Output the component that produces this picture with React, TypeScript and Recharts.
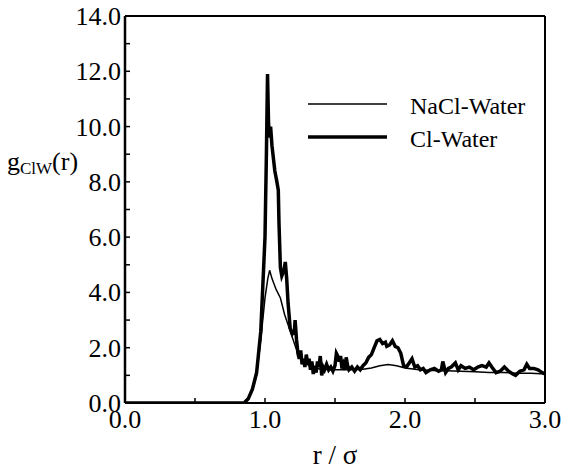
import { LineChart, Line, XAxis, YAxis, Legend, Label } from 'recharts';

const clR = [0, 0.85, 0.88, 0.91, 0.94, 0.97, 1.0, 1.01, 1.018, 1.025, 1.03, 1.04, 1.05, 1.07, 1.085, 1.095, 1.1, 1.11, 1.12, 1.135, 1.145, 1.155, 1.165, 1.18, 1.195, 1.21, 1.215, 1.225, 1.235, 1.245, 1.255, 1.265, 1.275, 1.285, 1.295, 1.305, 1.315, 1.325, 1.335, 1.345, 1.355, 1.365, 1.375, 1.385, 1.395, 1.405, 1.415, 1.425, 1.44, 1.455, 1.47, 1.485, 1.5, 1.51, 1.52, 1.53, 1.54, 1.55, 1.56, 1.57, 1.58, 1.59, 1.6, 1.62, 1.64, 1.66, 1.68, 1.7, 1.72, 1.74, 1.76, 1.78, 1.8, 1.82, 1.84, 1.86, 1.87, 1.89, 1.91, 1.93, 1.95, 1.97, 1.99, 2.01, 2.03, 2.05, 2.07, 2.09, 2.11, 2.13, 2.15, 2.18, 2.21, 2.24, 2.26, 2.27, 2.29, 2.31, 2.33, 2.36, 2.38, 2.4, 2.43, 2.46, 2.49, 2.52, 2.55, 2.58, 2.6, 2.62, 2.65, 2.68, 2.71, 2.74, 2.77, 2.79, 2.82, 2.85, 2.87, 2.89, 2.92, 2.95, 2.98, 3.0];
const clG = [0, 0, 0.15, 0.5, 1.1, 2.6, 6.0, 9.0, 11.9, 10.2, 9.6, 10.0, 9.3, 8.4, 8.0, 7.7, 6.5, 4.9, 4.6, 4.8, 5.1, 4.5, 3.6, 2.7, 2.5, 2.6, 3.0, 2.3, 1.8, 1.6, 1.9, 1.4, 1.6, 1.3, 1.75, 1.4, 1.6, 1.2, 1.5, 1.05, 1.35, 1.1, 1.5, 1.3, 1.7, 1.0, 1.3, 1.2, 1.4, 1.2, 1.3, 1.15, 1.35, 1.8, 1.7, 1.5, 1.7, 1.25, 1.4, 1.2, 1.65, 1.35, 1.2, 1.3, 1.15, 1.3, 1.2, 1.35, 1.45, 1.65, 1.75, 2.0, 2.25, 2.3, 2.15, 2.2, 2.05, 2.1, 2.25, 2.05, 2.0, 1.8, 1.35, 1.3, 1.45, 1.6, 1.3, 1.35, 1.2, 1.25, 1.1, 1.2, 1.25, 1.15, 1.2, 1.5, 1.1, 1.25, 1.3, 1.45, 1.2, 1.35, 1.25, 1.3, 1.2, 1.3, 1.35, 1.3, 1.45, 1.3, 1.1, 1.15, 1.3, 1.15, 1.05, 1.0, 1.15, 1.2, 1.4, 1.25, 1.25, 1.2, 1.1, 1.05];

const naclR = [0, 0.85, 0.88, 0.91, 0.94, 0.97, 1.0, 1.02, 1.033, 1.05, 1.08, 1.11, 1.14, 1.18, 1.22, 1.26, 1.3, 1.35, 1.4, 1.5, 1.6, 1.7, 1.76, 1.82, 1.88, 1.94, 2.0, 2.1, 2.2, 2.3, 2.4, 2.5, 2.6, 2.7, 2.8, 2.9, 3.0];
const naclG = [0, 0, 0.12, 0.45, 1.0, 2.3, 3.8, 4.5, 4.8, 4.5, 4.1, 3.8, 3.2, 2.6, 2.0, 1.6, 1.4, 1.27, 1.22, 1.2, 1.2, 1.22, 1.27, 1.35, 1.39, 1.35, 1.27, 1.2, 1.18, 1.17, 1.15, 1.13, 1.1, 1.1, 1.08, 1.08, 1.05];

const xTicks = [0, 0.5, 1, 1.5, 2, 2.5, 3];
const yTicks = [0, 1, 2, 3, 4, 5, 6, 7, 8, 9, 10, 11, 12, 13, 14];

const clData = clR.map((r, i) => ({ r, g: clG[i] }));
const naclData = naclR.map((r, i) => ({ r, g: naclG[i] }));

const serif = { fontFamily: "'Liberation Serif', 'Times New Roman', Times, serif" };

const XTick = ({ x, y, payload }: any) => {
  const v = payload.value;
  return (
    <g>
      <line x1={x} x2={x} y1={y} y2={y - 5} stroke="#000" strokeWidth={1.5} />
      {Number.isInteger(v) && (
        <text x={x} y={y + 25} textAnchor="middle" style={serif} fontSize={26} fill="#000">
          {v.toFixed(1)}
        </text>
      )}
    </g>
  );
};

const YTick = ({ x, y, payload }: any) => {
  const v = payload.value;
  return (
    <g>
      <line x1={x} x2={x + 5} y1={y} y2={y} stroke="#000" strokeWidth={1.5} />
      {v % 2 === 0 && (
        <text x={x - 4} y={y + 9} textAnchor="end" style={serif} fontSize={26} fill="#000">
          {v.toFixed(1)}
        </text>
      )}
    </g>
  );
};

const LegendBox = () => (
  <svg width={240} height={70}>
    <line x1={8} x2={87} y1={14} y2={14} stroke="#000" strokeWidth={1.5} />
    <line x1={8} x2={87} y1={47} y2={47} stroke="#000" strokeWidth={3.5} />
    <text x={110} y={24} style={serif} fontSize={24} fill="#000">NaCl-Water</text>
    <text x={110} y={57} style={serif} fontSize={24} fill="#000">Cl-Water</text>
  </svg>
);

export default function App() {
  return (
    <div style={{ position: 'absolute', left: 0, top: 0, background: '#fff' }}>
      <LineChart width={564} height={469} margin={{ top: 0, right: 0, bottom: 0, left: 0 }}>
        <XAxis
          type="number"
          dataKey="r"
          domain={[0, 3]}
          ticks={xTicks}
          height={66}
          tickSize={0}
          tickMargin={0}
          tickLine={false}
          tick={<XTick />}
          axisLine={{ stroke: '#000', strokeWidth: 2 }}
          allowDataOverflow
        >
          <Label
            content={() => (
              <text x={335} y={464} textAnchor="middle" style={serif} fontSize={27} fill="#000">
                r / σ
              </text>
            )}
          />
        </XAxis>
        <XAxis xAxisId="top" orientation="top" type="number" domain={[0, 3]} height={16} tick={false} tickLine={false} axisLine={{ stroke: '#000', strokeWidth: 2 }} />
        <YAxis
          type="number"
          domain={[0, 14]}
          ticks={yTicks}
          width={125}
          tickSize={0}
          tickMargin={0}
          tickLine={false}
          tick={<YTick />}
          axisLine={{ stroke: '#000', strokeWidth: 2.5 }}
          allowDataOverflow
        >
          <Label
            content={() => (
              <text x={7} y={170} style={serif} fontSize={26} fill="#000">
                g
                <tspan fontSize={17} dy={4}>ClW</tspan>
                <tspan dy={-4}>(r)</tspan>
              </text>
            )}
          />
        </YAxis>
        <YAxis yAxisId="right" orientation="right" type="number" domain={[0, 14]} width={19} tick={false} tickLine={false} axisLine={{ stroke: '#000', strokeWidth: 2 }} />
        <Legend
          layout="vertical"
          align="center"
          verticalAlign="middle"
          content={() => <LegendBox />}
          wrapperStyle={{ position: 'absolute', left: 300, top: 90, width: 240 }}
        />
        <Line data={naclData} dataKey="g" name="NaCl-Water" type="linear" stroke="#000" strokeWidth={1.5} dot={false} isAnimationActive={false} />
        <Line data={clData} dataKey="g" name="Cl-Water" type="linear" stroke="#000" strokeWidth={3.5} dot={false} isAnimationActive={false} />
      </LineChart>
    </div>
  );
}
